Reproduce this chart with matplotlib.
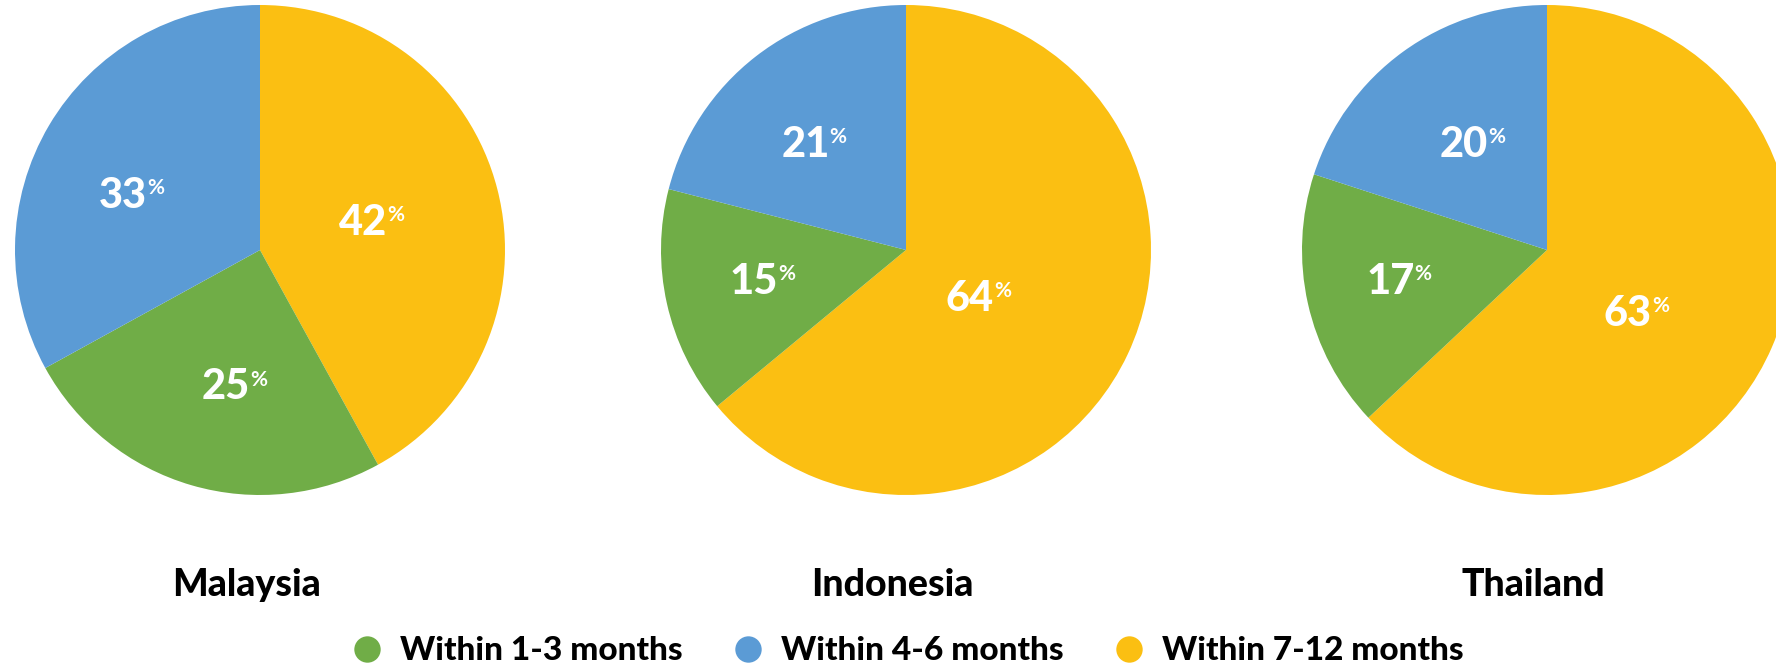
import matplotlib
matplotlib.use("Agg")
import matplotlib.pyplot as plt
from matplotlib.lines import Line2D

# data: share of respondents per time frame, clockwise from 12 o'clock
countries = ["Malaysia", "Indonesia", "Thailand"]
series = ["Within 7-12 months", "Within 1-3 months", "Within 4-6 months"]
malaysia = [42, 25, 33]
indonesia = [64, 15, 21]
thailand = [63, 17, 20]
values = [malaysia, indonesia, thailand]

colors = ["#FBBF12", "#70AD47", "#5B9BD5"]
legend_order = [1, 2, 0]

# layout (pixels on a 1776x665 canvas)
W, H = 1776, 665
centers_x = [260, 906, 1547]
center_y = 250
radius = 245
# label centres in radius units, one per wedge
label_xy = [
    [(0.42, 0.11), (-0.14, -0.56), (-0.56, 0.22)],
    [(0.26, -0.20), (-0.62, -0.13), (-0.41, 0.43)],
    [(0.33, -0.26), (-0.64, -0.13), (-0.34, 0.43)],
]

plt.rcParams['font.family'] = ['Lato', 'DejaVu Sans']
fig = plt.figure(figsize=(W / 100, H / 100), dpi=100)

for i, vals in enumerate(values):
    left = (centers_x[i] - radius) / W
    bottom = (H - center_y - radius) / H
    ax = fig.add_axes([left, bottom, 2 * radius / W, 2 * radius / H])
    ax.pie(vals, colors=colors, startangle=90, counterclock=False,
           radius=1, wedgeprops=dict(linewidth=0))
    ax.set_xlim(-1, 1)
    ax.set_ylim(-1, 1)
    ax.set_aspect('auto')
    ax.axis('off')
    for j, v in enumerate(vals):
        x, y = label_xy[i][j]
        t = ax.text(x, y, str(v), color='white', fontsize=30, fontweight='black',
                    ha='center', va='center')
        ax.annotate('%', xy=(1.0, 1.0), xycoords=t, xytext=(0, -1),
                    textcoords='offset points', color='white', fontsize=15,
                    fontweight='bold', ha='left', va='top')
    fig.text((centers_x[i] - 14) / W, 1 - 585 / H, countries[i], fontsize=27,
             fontweight='black', ha='center', va='center', color='black')

handles = [Line2D([], [], marker='o', linestyle='none', markersize=19,
                  markerfacecolor=colors[k], markeredgewidth=0) for k in legend_order]
labels = [series[k] for k in legend_order]
fig.legend(handles, labels, loc='center', bbox_to_anchor=(0.5 + 19 / W, 1 - 651 / H),
           ncol=3, frameon=False, prop=dict(weight='black', size=24),
           handletextpad=0.5, columnspacing=1.45, handlelength=1.0)

fig.savefig("out.png", dpi=100, facecolor='white')
